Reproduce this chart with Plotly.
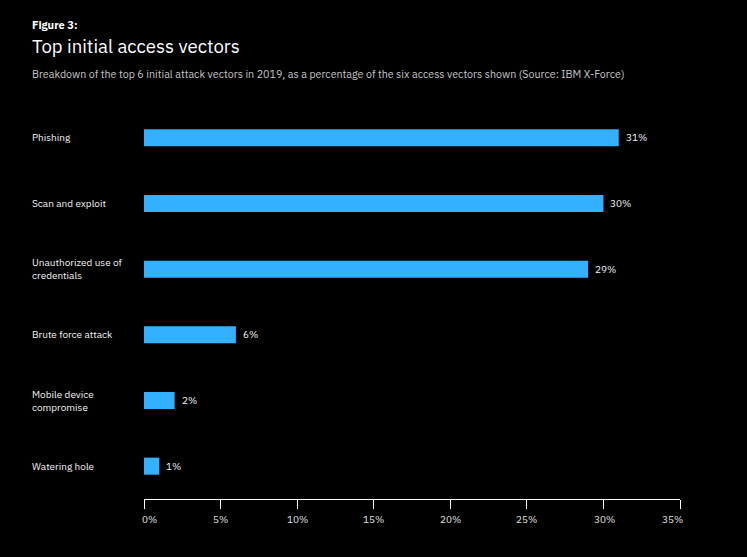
import plotly.graph_objects as go

categories = ["Phishing", "Scan and exploit", "Unauthorized use of<br>credentials",
              "Brute force attack", "Mobile device<br>compromise", "Watering hole"]
values = [31, 30, 29, 6, 2, 1]
value_labels = ["31%", "30%", "29%", "6%", "2%", "1%"]
tick_vals = [0, 5, 10, 15, 20, 25, 30, 35]
tick_text = ["0%", "5%", "10%", "15%", "20%", "25%", "30%", "35%"]
tick_shift = [5, 0, 0, 0, 0, 0, 1, -8]

FONT = "IBM Plex Sans, Noto Sans, Open Sans, sans-serif"
W, H = 747, 557
ml, mr, mt, mb = 144, 67, 105, 58

fig = go.Figure()
fig.add_trace(go.Bar(
    x=values, y=categories, orientation="h",
    marker=dict(color="#33b1ff", line=dict(width=0)),
    width=0.26, hoverinfo="skip",
))

def py(px):
    return 1 - (px - mt) / (H - mt - mb)

def px_x(px):
    return (px - ml) / (W - ml - mr)

annotations = []
for c in categories:
    annotations.append(dict(
        x=px_x(30), xref="paper", y=c, yref="y",
        text=c, showarrow=False, xanchor="left", yanchor="middle", align="left",
        font=dict(color="#f4f4f4", size=10, family=FONT),
    ))
for c, v, t in zip(categories, values, value_labels):
    annotations.append(dict(
        x=v, xref="x", y=c, yref="y", text=t, showarrow=False,
        xanchor="left", yanchor="middle", xshift=5,
        font=dict(color="#f4f4f4", size=10, family=FONT),
    ))
for v, t, s in zip(tick_vals, tick_text, tick_shift):
    annotations.append(dict(
        x=v, xref="x", y=py(519), yref="paper", text=t, showarrow=False,
        xanchor="center", yanchor="middle", xshift=s,
        font=dict(color="#e0e0e0", size=10, family=FONT),
    ))

annotations += [
    dict(x=px_x(30), y=py(25), xref="paper", yref="paper", text="<b>Figure 3:</b>",
         showarrow=False, xanchor="left", yanchor="middle",
         font=dict(color="#ffffff", size=11, family=FONT)),
    dict(x=px_x(30), y=py(46), xref="paper", yref="paper", text="Top initial access vectors",
         showarrow=False, xanchor="left", yanchor="middle",
         font=dict(color="#ffffff", size=18.6, family=FONT)),
    dict(x=px_x(30), y=py(74), xref="paper", yref="paper",
         text="Breakdown of the top 6 initial attack vectors in 2019, as a percentage of the six access vectors shown (Source: IBM X-Force)",
         showarrow=False, xanchor="left", yanchor="middle",
         font=dict(color="#c6c6c6", size=10.7, family=FONT)),
]

fig.update_layout(
    width=W, height=H,
    margin=dict(l=ml, r=mr, t=mt, b=mb),
    paper_bgcolor="#000000", plot_bgcolor="#000000",
    showlegend=False,
    annotations=annotations,
    xaxis=dict(range=[0, 35], tickvals=tick_vals, ticktext=tick_text, showticklabels=False,
               showgrid=False, zeroline=False, showline=True, linecolor="#ffffff", linewidth=1,
               ticks="outside", ticklen=9, tickcolor="#ffffff", tickwidth=1,
               fixedrange=True),
    yaxis=dict(showticklabels=False, showgrid=False, zeroline=False,
               showline=False, ticks="", range=[5.5, -0.5], fixedrange=True),
)

fig.write_html("out.html", config={"displayModeBar": False},
               post_script="document.body.style.margin='0';document.body.style.background='#000';")
